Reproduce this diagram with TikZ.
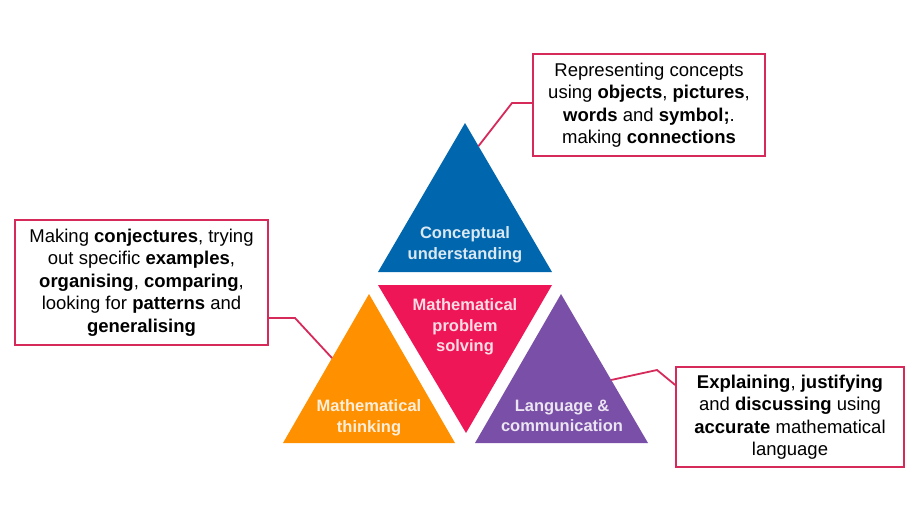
\documentclass[tikz,border=0pt]{standalone}
\usepackage{fontspec}
\setmainfont{Liberation Sans}
\usepackage{xcolor}
\usetikzlibrary{calc}

\definecolor{cublue}{HTML}{0066AD}
\definecolor{psred}{HTML}{EE1656}
\definecolor{mtorange}{HTML}{FF9000}
\definecolor{lcpurple}{HTML}{7A4FA7}
\definecolor{boxline}{HTML}{D62A5A}

\begin{document}
\begin{tikzpicture}[x=1pt, y=-1pt, line join=miter,
        lab/.style = {text=white, text opacity=0.85, font=\fontsize{16.5}{20.5}\selectfont\bfseries, align=center, inner sep=0},
        info/.style = {draw=boxline, line width=1.6pt, fill=white, align=center, inner sep=0, font=\fontsize{18.5}{22.5}\selectfont},
        link/.style = {draw=boxline, line width=1.8pt}]
        \useasboundingbox (0,0) rectangle (920,512);
        \coordinate (cu-top) at (465,123);
        \coordinate (cu-left) at (378,272);
        \coordinate (cu-right) at (552,272);
        \coordinate (ps-left) at (378,285);
        \coordinate (ps-right) at (552,285);
        \coordinate (ps-bot) at (466,433);
        \coordinate (mt-top) at (369,294);
        \coordinate (mt-left) at (283,443);
        \coordinate (mt-right) at (455,443);
        \coordinate (lc-top) at (561,294);
        \coordinate (lc-left) at (475,443);
        \coordinate (lc-right) at (648,443);
        \fill[cublue] (cu-top) -- (cu-right) -- (cu-left) -- cycle;
        \fill[psred] (ps-left) -- (ps-right) -- (ps-bot) -- cycle;
        \fill[mtorange] (mt-top) -- (mt-right) -- (mt-left) -- cycle;
        \fill[lcpurple] (lc-top) -- (lc-right) -- (lc-left) -- cycle;
        \node [lab] (cu) at (465,245) {Conceptual\\understanding};
        \node [lab] (ps) at (465,327) {Mathematical\\problem\\solving};
        \node [lab] (mt) at (369,418) {Mathematical\\thinking};
        \node [lab] (lc) at (562,416) {Language \&\\communication};
        \node [info, minimum width=232, minimum height=102] (cubox) at (649,105)
            {Representing concepts\\using \textbf{objects}, \textbf{pictures},\\\textbf{words} and \textbf{symbol;}.\\making \textbf{connections}};
        \node [info, minimum width=253, minimum height=125] (mtbox) at (141.5,282.5)
            {Making \textbf{conjectures}, trying\\out specific \textbf{examples},\\\textbf{organising}, \textbf{comparing},\\looking for \textbf{patterns} and\\\textbf{generalising}};
        \node [info, minimum width=228, minimum height=100] (lcbox) at (790,417)
            {\textbf{Explaining}, \textbf{justifying}\\and \textbf{discussing} using\\\textbf{accurate} mathematical\\language};
        \coordinate (cu-edge) at ($(cu-top)!0.155!(cu-right)$);
        \coordinate (mt-edge) at ($(mt-top)!0.43!(mt-left)$);
        \coordinate (lc-edge) at ($(lc-top)!0.577!(lc-right)$);
        \draw[link] (cubox.west |- 0,103) -- (512,103) -- (cu-edge);
        \draw[link] (mtbox.east |- 0,318) -- (295,318) -- (mt-edge);
        \draw[link] (lcbox.west |- 0,385) -- (657,370) -- (lc-edge);
\end{tikzpicture}
\end{document}
